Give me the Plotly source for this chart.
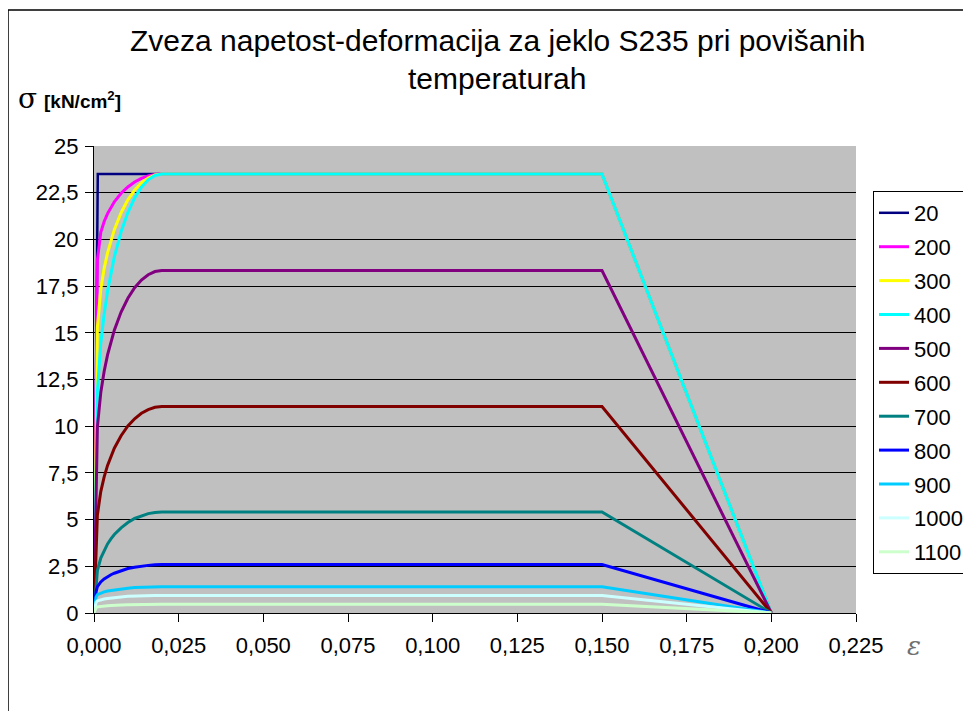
import plotly.graph_objects as go

# ---------------- data ----------------
temps = ["20", "200", "300", "400", "500", "600", "700", "800", "900", "1000", "1100"]
colors = ["#000080", "#FF00FF", "#FFFF00", "#00FFFF", "#800080", "#800000",
          "#008080", "#0000FF", "#00CCFF", "#CCFFFF", "#CCFFCC"]

eps_20 = [0, 0.00112, 0.020, 0.150, 0.200]
sig_20 = [0, 23.5, 23.5, 23.5, 0]

eps = [0, 0.0006, 0.001, 0.002, 0.003, 0.004, 0.005, 0.006, 0.008, 0.010,
       0.012, 0.014, 0.016, 0.018, 0.020, 0.150, 0.200]
sig_200 = [0, 11.34, 18.90, 20.38, 20.96, 21.38, 21.73, 22.01, 22.47, 22.81, 23.07, 23.27, 23.40, 23.48, 23.5, 23.5, 0]
sig_300 = [0, 10.08, 15.31, 17.33, 18.45, 19.28, 19.96, 20.52, 21.43, 22.12, 22.64, 23.03, 23.29, 23.45, 23.5, 23.5, 0]
sig_400 = [0, 8.82, 11.88, 14.42, 16.01, 17.22, 18.22, 19.06, 20.41, 21.44, 22.22, 22.79, 23.19, 23.42, 23.5, 23.5, 0]
sig_500 = [0, 7.56, 9.97, 11.80, 12.94, 13.82, 14.53, 15.14, 16.11, 16.85, 17.41, 17.82, 18.11, 18.28, 18.33, 18.33, 0]
sig_600 = [0, 3.91, 5.25, 6.50, 7.29, 7.90, 8.39, 8.82, 9.49, 10.01, 10.40, 10.69, 10.89, 11.01, 11.05, 11.05, 0]
sig_700 = [0, 1.64, 2.27, 2.94, 3.37, 3.70, 3.97, 4.20, 4.56, 4.84, 5.06, 5.21, 5.32, 5.38, 5.41, 5.41, 0]
sig_800 = [0, 1.13, 1.41, 1.66, 1.82, 1.95, 2.05, 2.13, 2.27, 2.38, 2.45, 2.51, 2.55, 2.58, 2.59, 2.59, 0]
sig_900 = [0, 0.85, 0.98, 1.07, 1.13, 1.18, 1.21, 1.24, 1.29, 1.33, 1.36, 1.38, 1.40, 1.41, 1.41, 1.41, 0]
sig_1000 = [0, 0.57, 0.65, 0.71, 0.75, 0.78, 0.81, 0.83, 0.86, 0.89, 0.91, 0.92, 0.93, 0.94, 0.94, 0.94, 0]
sig_1100 = [0, 0.28, 0.33, 0.36, 0.38, 0.39, 0.40, 0.42, 0.43, 0.44, 0.45, 0.46, 0.47, 0.47, 0.47, 0.47, 0]

x_tickvals = [0, 0.025, 0.05, 0.075, 0.1, 0.125, 0.15, 0.175, 0.2, 0.225]
x_ticktext = ["0,000", "0,025", "0,050", "0,075", "0,100", "0,125", "0,150", "0,175", "0,200", "0,225"]
y_tickvals = [0, 2.5, 5, 7.5, 10, 12.5, 15, 17.5, 20, 22.5, 25]
y_ticktext = ["0", "2,5", "5", "7,5", "10", "12,5", "15", "17,5", "20", "22,5", "25"]

title_line1 = "Zveza napetost-deformacija za jeklo S235 pri povišanih"
title_line2 = "temperaturah"

# ---------------- figure ----------------
FONT = "Liberation Sans, Arial, sans-serif"
series = [(eps_20, sig_20), (eps, sig_200), (eps, sig_300), (eps, sig_400), (eps, sig_500),
          (eps, sig_600), (eps, sig_700), (eps, sig_800), (eps, sig_900), (eps, sig_1000),
          (eps, sig_1100)]

fig = go.Figure()
for name, col, (xs, ys) in zip(temps, colors, series):
    fig.add_trace(go.Scatter(
        x=xs, y=ys, mode="lines", name=name,
        legendgroup=name,
        line=dict(color=col, width=2.5 if name == "20" else 3),
    ))

OFF = 8  # page offset of the figure inside the browser window
W, H = 971, 711
L, T = 94 - OFF, 146 - OFF
R = W - (856 - OFF)
B = H - (613 - OFF)
pw, ph = W - L - R, H - T - B


def px_x(s):
    return (s - OFF - L) / pw


def px_y(s):
    return (H - B - (s - OFF)) / ph


fig.update_layout(
    width=W, height=H,
    margin=dict(l=L, r=R, t=T, b=B, autoexpand=False),
    paper_bgcolor="white",
    plot_bgcolor="#C0C0C0",
    font=dict(family=FONT, color="black", size=22),
    showlegend=True,
    legend=dict(
        x=px_x(873), y=px_y(191), xanchor="left", yanchor="top",
        bgcolor="white", bordercolor="black", borderwidth=1,
        font=dict(size=22, family=FONT, color="black"),
        tracegroupgap=2.3, traceorder="grouped",
    ),
    xaxis=dict(
        range=[0, 0.225], tickvals=x_tickvals, ticktext=x_ticktext,
        showgrid=False, zeroline=False, showline=True, linecolor="black", linewidth=1,
        ticks="outside", ticklen=8, tickcolor="black", tickwidth=1,
        tickfont=dict(size=22, family=FONT), ticklabelstandoff=5,
    ),
    yaxis=dict(
        range=[0, 25], tickvals=y_tickvals, ticktext=y_ticktext,
        showgrid=True, gridcolor="black", gridwidth=1, zeroline=False,
        showline=True, linecolor="black", linewidth=1,
        ticks="outside", ticklen=8, tickcolor="black", tickwidth=1,
        tickfont=dict(size=22, family=FONT), ticklabelstandoff=2,
    ),
    shapes=[
        dict(type="rect", xref="paper", yref="paper",
             x0=px_x(8), x1=px_x(1010), y0=px_y(760), y1=px_y(10),
             line=dict(color="black", width=1.5), fillcolor="rgba(0,0,0,0)", layer="below"),
    ],
    annotations=[
        dict(text=title_line1, xref="paper", yref="paper", x=px_x(497), y=px_y(40),
             xanchor="center", yanchor="middle", showarrow=False,
             font=dict(size=30, family=FONT, color="black")),
        dict(text=title_line2, xref="paper", yref="paper", x=px_x(497), y=px_y(78),
             xanchor="center", yanchor="middle", showarrow=False,
             font=dict(size=30, family=FONT, color="black")),
        dict(text="σ", xref="paper", yref="paper", x=px_x(16), y=px_y(99),
             xanchor="left", yanchor="middle", showarrow=False,
             font=dict(size=28, family="DejaVu Serif, serif", color="black")),
        dict(text="<b>[kN/cm<sup>2</sup>]</b>", xref="paper", yref="paper", x=px_x(42), y=px_y(100),
             xanchor="left", yanchor="middle", showarrow=False,
             font=dict(size=19, family=FONT, color="black")),
        dict(text="<i>ε</i>", xref="paper", yref="paper", x=px_x(905), y=px_y(646),
             xanchor="left", yanchor="middle", showarrow=False,
             font=dict(size=26, family="DejaVu Serif, serif", color="#707070")),
    ],
)

fig.write_html("out.html")
